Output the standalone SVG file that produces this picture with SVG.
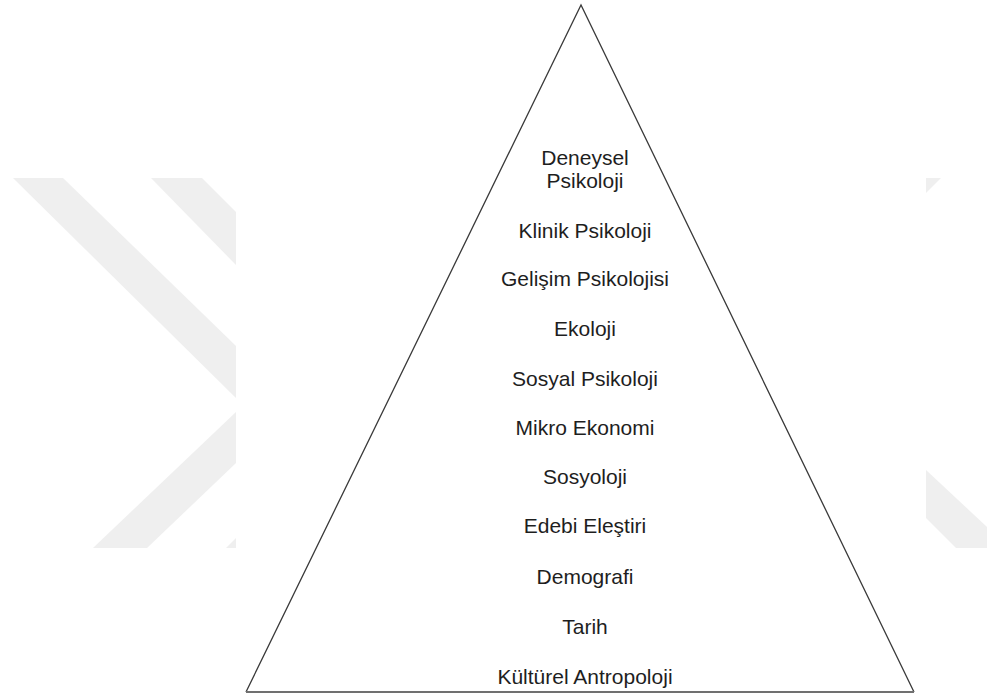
<svg xmlns="http://www.w3.org/2000/svg" width="987" height="697" viewBox="0 0 987 697">
  <style>
    .lbl { font-family: "Liberation Sans", Arial, sans-serif; font-size: 21px; fill: #1e1e1e; text-anchor: middle; }
    .side { fill: none; stroke: #3a3a3a; stroke-width: 1.3; }
    .base { fill: none; stroke: #707070; stroke-width: 2; }
    .mark { fill: #efefef; }
  </style>
  <rect width="987" height="697" fill="#ffffff"/>

  <!-- faint background chevrons -->
  <g id="watermark">
    <polygon class="mark" points="13,178 63,178 236,346 236,398"/>
    <polygon class="mark" points="236,412 236,463 147,548 93,548"/>
    <polygon class="mark" points="151,178 202,178 236,212 236,265"/>
    <polygon class="mark" points="236,538 236,548 226,548"/>
    <polygon class="mark" points="926,178 941,178 926,193"/>
    <polygon class="mark" points="926,470 987,527 987,548 956,548 926,518"/>
  </g>

  <!-- pyramid outline -->
  <g id="pyramid">
    <polyline class="side" points="246,692 581,5 914,692"/>
    <line class="base" x1="246" y1="692" x2="914" y2="692"/>
  </g>

  <!-- discipline labels, top to bottom -->
  <g id="deneysel-psikoloji">
    <text class="lbl" x="585" y="165">Deneysel</text>
    <text class="lbl" x="585" y="188">Psikoloji</text>
  </g>
  <g id="klinik-psikoloji"><text class="lbl" x="585" y="238">Klinik Psikoloji</text></g>
  <g id="gelisim-psikolojisi"><text class="lbl" x="585" y="286">Gelişim Psikolojisi</text></g>
  <g id="ekoloji"><text class="lbl" x="585" y="336">Ekoloji</text></g>
  <g id="sosyal-psikoloji"><text class="lbl" x="585" y="386">Sosyal Psikoloji</text></g>
  <g id="mikro-ekonomi"><text class="lbl" x="585" y="435">Mikro Ekonomi</text></g>
  <g id="sosyoloji"><text class="lbl" x="585" y="484">Sosyoloji</text></g>
  <g id="edebi-elestiri"><text class="lbl" x="585" y="533">Edebi Eleştiri</text></g>
  <g id="demografi"><text class="lbl" x="585" y="584">Demografi</text></g>
  <g id="tarih"><text class="lbl" x="585" y="634">Tarih</text></g>
  <g id="kulturel-antropoloji"><text class="lbl" x="585" y="684">Kültürel Antropoloji</text></g>
</svg>
